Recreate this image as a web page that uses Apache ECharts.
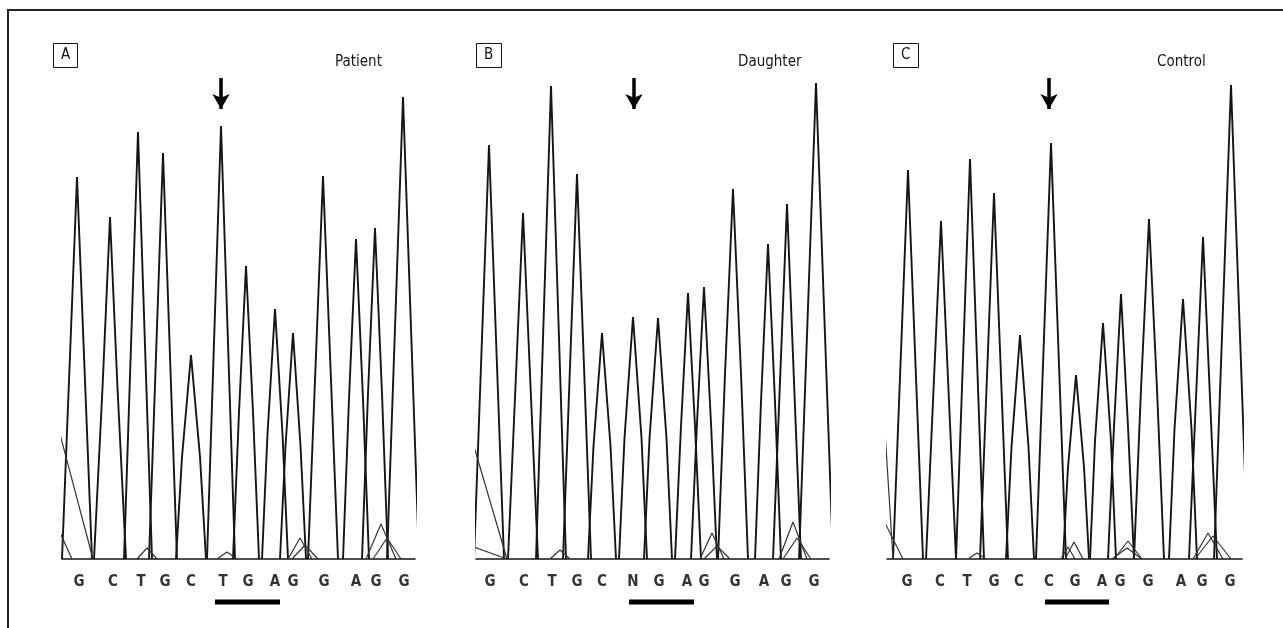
<!DOCTYPE html>
<html>
<head>
<meta charset="utf-8">
<script src="https://cdn.jsdelivr.net/npm/echarts@6/dist/echarts.min.js"></script>
<style>
  html, body { margin: 0; padding: 0; background: #fff; }
  #main { width: 1283px; height: 628px; }
</style>
</head>
<body>
<div id="main"></div>
<script>
// panel labels
const panelNames = ['A', 'B', 'C']
const sampleNames = ['Patient', 'Daughter', 'Control']

// called bases and where they sit along each trace (scan units)
const basesA = ['G', 'C', 'T', 'G', 'C', 'T', 'G', 'A', 'G', 'G', 'A', 'G', 'G']
const basesB = ['G', 'C', 'T', 'G', 'C', 'N', 'G', 'A', 'G', 'G', 'A', 'G', 'G']
const basesC = ['G', 'C', 'T', 'G', 'C', 'C', 'G', 'A', 'G', 'G', 'A', 'G', 'G']
const basePosA = [17, 51, 79, 103, 129, 161, 186, 213, 231, 262, 294, 314, 342]
const basePosB = [14, 48, 76, 101, 126, 157, 183, 211, 228, 259, 288, 310, 338]
const basePosC = [20, 53, 80, 107, 132, 162, 188, 215, 233, 261, 294, 315, 343]

// main peaks: centre, height, half width at base, half width at half height
const peakPosA = [15, 48, 76, 101, 129, 159, 184, 213, 231, 261, 294, 313, 341]
const peakHeightA = [382, 342, 427, 406, 204, 433, 293, 250, 226, 383, 320, 331, 462]
const peakWidthA = [15, 16, 14, 14, 15, 14, 13, 13, 13, 15, 13, 13, 16]
const peakMidA = [7.5, 7.5, 7, 7, 9, 7, 7, 7.5, 7.5, 7.5, 7, 7, 8]

const peakPosB = [13, 47, 75, 101, 126, 157, 182, 212, 228, 257, 292, 311, 340]
const peakHeightB = [414, 346, 473, 385, 226, 242, 241, 266, 272, 370, 315, 355, 476]
const peakWidthB = [15, 15, 15, 14, 14, 14, 14, 13, 13, 15, 13, 14, 17]
const peakMidB = [7.5, 7.5, 7.5, 7, 8.5, 8.5, 8.5, 7, 7, 8, 7, 7, 8.5]

const peakPosC = [21, 54, 83, 107, 133, 164, 189, 216, 234, 262, 296, 316, 344]
const peakHeightC = [389, 338, 400, 366, 224, 416, 184, 236, 265, 340, 260, 322, 474]
const peakWidthC = [15, 15, 14, 14, 14, 15, 13, 13, 13, 15, 14, 14, 17]
const peakMidC = [7.5, 7.5, 7, 7, 8.5, 7.5, 8, 8, 7, 8, 8.5, 7, 8.5]

// small background peaks (other dye traces)
const minorPosA = [-10, -5, 85, 165, 238, 243, 319, 325]
const minorHeightA = [155, 33, 11, 7, 21, 14, 35, 21]
const minorWidthA = [41, 15, 10, 10, 12, 13, 15, 14]

const minorPosB = [-15, -10, 84, 236, 241, 317, 321]
const minorHeightB = [157, 15, 9, 26, 13, 37, 21]
const minorWidthB = [46, 41, 10, 12, 13, 14, 14]

const minorPosC = [-4, -5, 90, 181, 187, 241, 240, 321, 326]
const minorHeightC = [160, 42, 6, 12, 17, 18, 11, 26, 23]
const minorWidthC = [10, 21, 9, 7, 9, 14, 15, 15, 18]

// mutation marks
const arrowPos = [159, 158, 162]
const barStart = [153, 153, 158]
const barEnd = [218, 218, 222]

const panels = [
  { bases: basesA, basePos: basePosA, pos: peakPosA, h: peakHeightA, w: peakWidthA, m: peakMidA, mpos: minorPosA, mh: minorHeightA, mw: minorWidthA },
  { bases: basesB, basePos: basePosB, pos: peakPosB, h: peakHeightB, w: peakWidthB, m: peakMidB, mpos: minorPosB, mh: minorHeightB, mw: minorWidthB },
  { bases: basesC, basePos: basePosC, pos: peakPosC, h: peakHeightC, w: peakWidthC, m: peakMidC, mpos: minorPosC, mh: minorHeightC, mw: minorWidthC }
]

const gridLeft = [62, 476, 887]
const gridWidth = [353, 353, 355]
const boxLeft = [53, 476, 893]
const nameLeft = [335, 738, 1157]
const font = "'Liberation Sans Narrow', 'DejaVu Sans Condensed', 'Liberation Sans', sans-serif"
const ink = '#151515'

var grids = [], xAxes = [], yAxes = [], series = [], titles = []

panels.forEach(function (p, i) {
  grids.push({ left: gridLeft[i], width: gridWidth[i], top: 59, height: 560 })
  xAxes.push({
    type: 'value', gridIndex: i, min: 0, max: gridWidth[i],
    axisLine: { onZero: true, lineStyle: { color: ink, width: 1.6 } },
    axisTick: { show: false }, axisLabel: { show: false }, splitLine: { show: false }
  })
  yAxes.push({ type: 'value', gridIndex: i, min: -60, max: 500, show: false })

  // main traces
  p.pos.forEach(function (c, k) {
    var h = p.h[k], w = p.w[k], m = p.m[k]
    series.push({
      type: 'line', xAxisIndex: i, yAxisIndex: i, symbol: 'none', silent: true,
      lineStyle: { color: ink, width: 1.9 },
      data: [[c - w, 0], [c - m, h / 2], [c, h], [c + m, h / 2], [c + w, 0]]
    })
  })
  // minor traces
  p.mpos.forEach(function (c, k) {
    series.push({
      type: 'line', xAxisIndex: i, yAxisIndex: i, symbol: 'none', silent: true,
      lineStyle: { color: '#333', width: 1.2 },
      data: [[c - p.mw[k], 0], [c, p.mh[k]], [c + p.mw[k], 0]]
    })
  })
  // base calls
  series.push({
    type: 'scatter', xAxisIndex: i, yAxisIndex: i, symbolSize: 1, silent: true,
    itemStyle: { color: 'rgba(0,0,0,0)' },
    label: { show: true, position: 'inside', formatter: '{b}', color: '#000', fontSize: 15, fontWeight: 'bold', fontFamily: font },
    data: p.basePos.map(function (x, k) { return { name: p.bases[k], value: [x, -23] } })
  })
  // underline bar + arrow
  series.push({
    type: 'line', xAxisIndex: i, yAxisIndex: i, symbol: 'none', silent: true,
    lineStyle: { color: '#000', width: 5, cap: 'butt' },
    data: [[barStart[i], -43], [barEnd[i], -43]],
    markLine: {
      silent: true, symbol: ['none', 'arrow'], symbolSize: [13, 15],
      label: { show: false },
      lineStyle: { color: '#000', width: 3.5, type: 'solid' },
      data: [[{ coord: [arrowPos[i], 481] }, { coord: [arrowPos[i], 450] }]]
    }
  })

  titles.push({
    text: panelNames[i], left: boxLeft[i], top: 43,
    borderWidth: 1, borderColor: ink, padding: [5, 8, 5, 8],
    textStyle: { fontSize: 15, fontWeight: 'normal', color: ink, fontFamily: font }
  })
  titles.push({
    text: sampleNames[i], left: nameLeft[i], top: 55, padding: 0,
    textStyle: { fontSize: 15, fontWeight: 'normal', color: ink, fontFamily: font }
  })
})

var chart = echarts.init(document.getElementById('main'))
chart.setOption({
  animation: false,
  backgroundColor: '#fff',
  title: titles,
  grid: grids,
  xAxis: xAxes,
  yAxis: yAxes,
  series: series,
  graphic: [{
    type: 'polyline', silent: true,
    shape: { points: [[8, 628], [8, 10], [1283, 10]] },
    style: { stroke: '#222', lineWidth: 2, fill: null }
  }]
})
</script>
</body>
</html>
